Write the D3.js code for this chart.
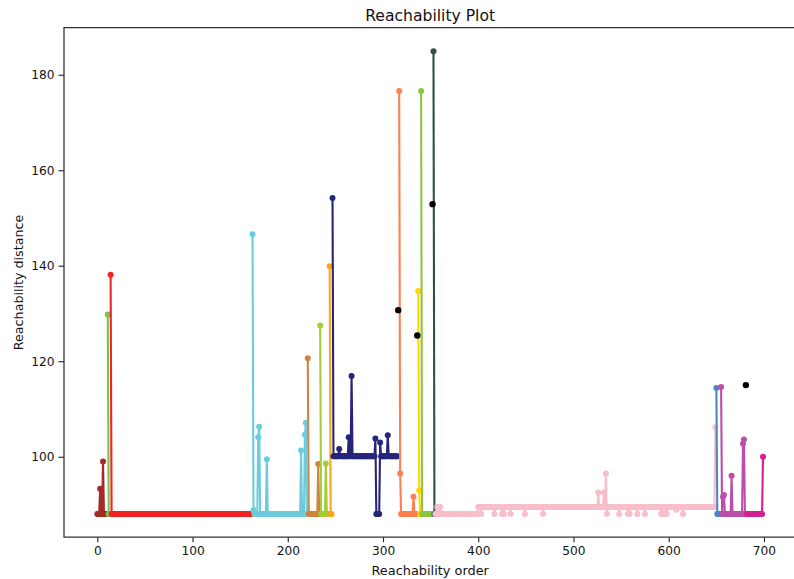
<!DOCTYPE html>
<html lang="en">
<head>
<meta charset="utf-8">
<title>Reachability Plot</title>
<script src="https://d3js.org/d3.v7.min.js"></script>
<style>
  body { margin: 0; background: white; }
  svg { display: block; font-family: "DejaVu Sans", sans-serif; }
</style>
</head>
<body>
<script>
// canvas
const SvgWidth = 794
const SvgHeight = 579

// plot area (right edge runs past the window, like the reference)
const plotLeft = 64, plotRight = 796.3
const plotTop = 27.7, plotBottom = 537.2

// tick labels
const xTicks = [0, 100, 200, 300, 400, 500, 600, 700]
const yTicks = [100, 120, 140, 160, 180]

// clusters, in reachability order: first index and runs of [reachability, count]
const clusterColors = ['#a52a2a', '#7cc14a', '#ef2424', '#6ccbdc', '#cd853f', '#a4cd39',
                       '#ffa51a', '#25257a', '#ff7f50', '#ffd700', '#8cc63f', '#2f4f4f',
                       '#f8bfca', '#4a86c8', '#bb4fa8', '#d4218f']
const clusterStarts = [0, 11, 14, 163, 221, 234, 244, 247, 317, 337, 340, 353, 355, 650, 655, 682]
const clusterRuns = [
  [[88,3],[93.3,1],[88,2],[99,1],[88,4]],
  [[129.8,1],[88,2]],
  [[138.1,1],[88,148]],
  [[146.6,1],[88.8,1],[88,4],[104.1,1],[106.3,1],[88,7],[99.5,1],[88,35],[101.3,1],[88,3],[104.6,1],[107.1,1],[88,1]],
  [[120.6,1],[88,10],[98.5,1],[88,1]],
  [[127.5,1],[88,5],[98.6,1],[88,3]],
  [[139.9,1],[88,2]],
  [[154.2,1],[100.1,6],[101.6,1],[100.1,9],[104.1,1],[100.1,2],[116.9,1],[100.1,24],[103.8,1],[88,4],[103,1],[100.1,7],[104.5,1],[100.1,10]],
  [[176.6,1],[96.5,1],[88,13],[91.6,1],[88,3]],
  [[134.7,1],[93,1],[88,1]],
  [[176.6,1],[88,11]],
  [[184.9,1],[88,1]],
  [[88,2],[89.5,1],[88,2],[89.5,1],[88,39],
   [89.5,3],[88,1],[89.5,13],[88,1],[89.5,7],[88,1],[89.5,1],[88,1],[89.5,6],[88,1],[89.5,14],[88,1],[89.5,18],[88,1],
   [89.5,57],[92.5,1],[89.5,5],[92.5,1],[89.5,1],[96.5,1],[88,1],
   [89.5,12],[88,1],[89.5,8],[88,1],[89.5,1],[88,1],[89.5,7],[88,1],[89.5,7],[88,1],[89.5,16],[88,1],
   [89.5,2],[88,1],[89.5,2],[88,1],[89.5,9],[88.9,1],[89.5,6],[88,1],[89.5,33],[106.2,1]],
  [[114.4,1],[88,4]],
  [[114.6,1],[88,1],[91.6,1],[92,1],[88,7],[96,1],[88,11],[102.7,1],[103.6,1],[88,1]],
  [[88,17],[100,1]]
]

// noise points (label -1)
const noiseOrder = [316, 336, 352, 681]
const noiseReach = [130.7, 125.4, 152.9, 115]

// expand runs into points
function clusterPoints(i) {
  const pts = []
  let k = clusterStarts[i]
  clusterRuns[i].forEach(function(r) {
    for (let j = 0; j < r[1]; j++) { pts.push([k, r[0]]); k++ }
  })
  return pts
}

const svg = d3.select("body").append("svg")
  .attr("width", SvgWidth)
  .attr("height", SvgHeight)

const x = d3.scaleLinear().domain([-34.95, 733.95]).range([plotLeft, plotRight])
const y = d3.scaleLinear().domain([83.15, 189.85]).range([plotBottom, plotTop])

const line = d3.line().x(d => x(d[0])).y(d => y(d[1]))

const plot = svg.append("g")

// one line with dot markers per cluster
clusterRuns.forEach(function(_, i) {
  const pts = clusterPoints(i)
  const g = plot.append("g")
  g.append("path")
    .datum(pts)
    .attr("d", line)
    .attr("fill", "none")
    .attr("stroke", clusterColors[i])
    .attr("stroke-width", 2.1)
    .attr("stroke-linejoin", "round")
  g.selectAll("circle")
    .data(pts)
    .enter().append("circle")
      .attr("cx", d => x(d[0]))
      .attr("cy", d => y(d[1]))
      .attr("r", 3)
      .attr("fill", clusterColors[i])
})

// noise as black dots
plot.selectAll(".noise")
  .data(noiseOrder)
  .enter().append("circle")
    .attr("class", "noise")
    .attr("cx", d => x(d))
    .attr("cy", (d, i) => y(noiseReach[i]))
    .attr("r", 3.2)
    .attr("fill", "black")

// axes
const xAxis = svg.append("g")
  .attr("transform", "translate(0," + plotBottom + ")")
  .call(d3.axisBottom(x).tickValues(xTicks).tickSize(5).tickPadding(4).tickSizeOuter(0))
const yAxis = svg.append("g")
  .attr("transform", "translate(" + plotLeft + ",0)")
  .call(d3.axisLeft(y).tickValues(yTicks).tickSize(5.5).tickPadding(4).tickSizeOuter(0))

;[xAxis, yAxis].forEach(function(a) {
  a.select(".domain").remove()
  a.selectAll("line").attr("stroke", "#222").attr("stroke-width", 1.1)
  a.selectAll("text").attr("font-family", "DejaVu Sans").attr("font-size", 12.2).attr("fill", "#111")
})

// spines (no right spine visible in the window)
svg.append("path")
  .attr("d", "M" + plotRight + "," + plotTop + "H" + plotLeft + "V" + plotBottom + "H" + plotRight)
  .attr("fill", "none")
  .attr("stroke", "#333")
  .attr("stroke-width", 1.3)

// labels
svg.append("text")
  .attr("x", (plotLeft + plotRight) / 2)
  .attr("y", 20.5)
  .attr("text-anchor", "middle")
  .attr("font-size", 15.6)
  .attr("fill", "#111")
  .text("Reachability Plot")

svg.append("text")
  .attr("x", (plotLeft + plotRight) / 2)
  .attr("y", 574.5)
  .attr("text-anchor", "middle")
  .attr("font-size", 12.9)
  .attr("fill", "#111")
  .text("Reachability order")

svg.append("text")
  .attr("transform", "translate(22.5," + (plotTop + plotBottom) / 2 + ") rotate(-90)")
  .attr("text-anchor", "middle")
  .attr("font-size", 12.7)
  .attr("fill", "#111")
  .text("Reachability distance")
</script>
</body>
</html>
